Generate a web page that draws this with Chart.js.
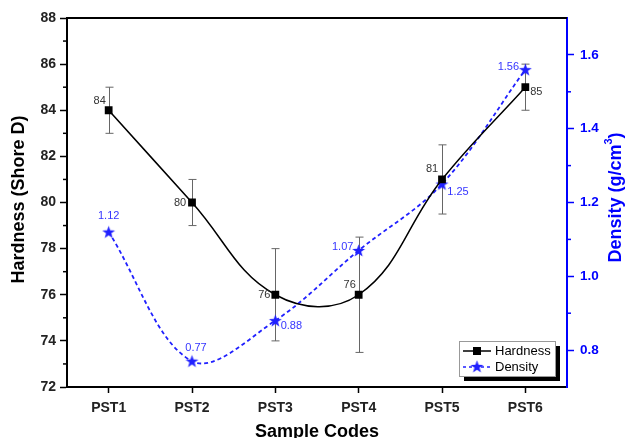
<!DOCTYPE html>
<html>
<head>
<meta charset="utf-8">
<script src="https://cdn.jsdelivr.net/npm/chart.js@4"></script>
<style>
  body { margin: 0; background: #fff; }
  #wrap { width: 630px; height: 438px; }
</style>
</head>
<body>
<div id="wrap"><canvas id="chart" width="630" height="438"></canvas></div>
<script>
const sampleCodes = ['PST1', 'PST2', 'PST3', 'PST4', 'PST5', 'PST6'];
const hardness = [84, 80, 76, 76, 81, 85];
const hardnessError = [1, 1, 2, 2.5, 1.5, 1];
const density = [1.12, 0.77, 0.88, 1.07, 1.25, 1.56];
const hardnessTicks = [72, 74, 76, 78, 80, 82, 84, 86, 88];
const densityTicks = [0.8, 1.0, 1.2, 1.4, 1.6];

// where each value label sits relative to its point (px)
const hardnessLabelPos = [[-9, -9], [-12, 0], [-11, 0], [-9, -10], [-10, -10], [11, 5]];
const densityLabelPos = [[0, -16], [4, -13], [16, 5], [-16, -4], [16, 8], [-17, -3]];

const FONT = "'Liberation Sans', Arial, sans-serif";
const BLUE = '#0000ff';
const LINE_BLUE = '#2020ff';

// filled five point star used as the density marker
const starImg = document.createElement('canvas');
starImg.width = 15;
starImg.height = 15;
const sctx = starImg.getContext('2d');
sctx.fillStyle = LINE_BLUE;
sctx.beginPath();
for (let i = 0; i < 10; i++) {
  const r = i % 2 ? 2.7 : 6.8;
  const a = -Math.PI / 2 + i * Math.PI / 5;
  sctx.lineTo(7.5 + r * Math.cos(a), 8 + r * Math.sin(a));
}
sctx.closePath();
sctx.fill();

const extras = {
  id: 'extras',
  beforeDatasetsDraw(chart) {
    const ctx = chart.ctx;
    const x = chart.scales.x, y = chart.scales.y;
    // error bars
    ctx.save();
    ctx.strokeStyle = '#666';
    ctx.lineWidth = 1;
    hardness.forEach((v, i) => {
      const px = Math.round(x.getPixelForValue(i)) + 0.5;
      const top = y.getPixelForValue(v + hardnessError[i]);
      const bot = y.getPixelForValue(v - hardnessError[i]);
      ctx.beginPath();
      ctx.moveTo(px, top); ctx.lineTo(px, bot);
      ctx.moveTo(px - 4, top); ctx.lineTo(px + 4, top);
      ctx.moveTo(px - 4, bot); ctx.lineTo(px + 4, bot);
      ctx.stroke();
    });
    ctx.restore();
  },
  afterDraw(chart) {
    const ctx = chart.ctx;
    const {left, right, top, bottom} = chart.chartArea;
    const x = chart.scales.x, y = chart.scales.y, y2 = chart.scales.y2;
    ctx.save();

    // top frame line
    ctx.strokeStyle = '#000';
    ctx.lineWidth = 2;
    ctx.beginPath();
    ctx.moveTo(left - 1, top); ctx.lineTo(right, top);
    ctx.stroke();

    // minor ticks
    ctx.lineWidth = 1.5;
    for (let i = 0; i < hardnessTicks.length - 1; i++) {
      const py = y.getPixelForValue((hardnessTicks[i] + hardnessTicks[i + 1]) / 2);
      ctx.beginPath();
      ctx.moveTo(left - 4, py); ctx.lineTo(left, py);
      ctx.stroke();
    }
    ctx.strokeStyle = BLUE;
    for (let i = 0; i < densityTicks.length - 1; i++) {
      const py = y2.getPixelForValue((densityTicks[i] + densityTicks[i + 1]) / 2);
      ctx.beginPath();
      ctx.moveTo(right, py); ctx.lineTo(right + 4, py);
      ctx.stroke();
    }

    // value labels
    ctx.font = '11px ' + FONT;
    ctx.textAlign = 'center';
    ctx.textBaseline = 'middle';
    ctx.fillStyle = '#333';
    hardness.forEach((v, i) => {
      ctx.fillText(String(v), x.getPixelForValue(i) + hardnessLabelPos[i][0],
        y.getPixelForValue(v) + hardnessLabelPos[i][1]);
    });
    ctx.fillStyle = '#3535ff';
    density.forEach((v, i) => {
      ctx.fillText(v.toFixed(2), x.getPixelForValue(i) + densityLabelPos[i][0],
        y2.getPixelForValue(v) + densityLabelPos[i][1]);
    });

    // axis titles
    ctx.font = 'bold 18px ' + FONT;
    ctx.fillStyle = '#000';
    ctx.fillText('Sample Codes', (left + right) / 2, 432);
    ctx.save();
    ctx.translate(19, (top + bottom) / 2 - 3);
    ctx.rotate(-Math.PI / 2);
    ctx.fillText('Hardness (Shore D)', 0, 0);
    ctx.restore();

    ctx.save();
    ctx.translate(616, (top + bottom) / 2 - 5);
    ctx.rotate(-Math.PI / 2);
    ctx.fillStyle = BLUE;
    ctx.textAlign = 'left';
    const main = 'Density (g/cm', sup = '3', end = ')';
    ctx.font = 'bold 18px ' + FONT;
    const wMain = ctx.measureText(main).width, wEnd = ctx.measureText(end).width;
    ctx.font = 'bold 11px ' + FONT;
    const wSup = ctx.measureText(sup).width;
    let sx = -(wMain + wSup + wEnd) / 2;
    ctx.font = 'bold 18px ' + FONT;
    ctx.fillText(main, sx, 0);
    ctx.font = 'bold 11px ' + FONT;
    ctx.fillText(sup, sx + wMain, -7);
    ctx.font = 'bold 18px ' + FONT;
    ctx.fillText(end, sx + wMain + wSup, 0);
    ctx.restore();

    // legend box with shadow
    const lx = right - 108, ly = bottom - 46, lw = 96, lh = 35;
    ctx.fillStyle = '#000';
    ctx.fillRect(lx + 5, ly + 5, lw, lh);
    ctx.fillStyle = '#fff';
    ctx.fillRect(lx, ly, lw, lh);
    ctx.strokeStyle = '#999';
    ctx.lineWidth = 1;
    ctx.strokeRect(lx + 0.5, ly + 0.5, lw, lh);

    ctx.strokeStyle = '#000';
    ctx.lineWidth = 1.5;
    ctx.beginPath();
    ctx.moveTo(lx + 4, ly + 10); ctx.lineTo(lx + 32, ly + 10);
    ctx.stroke();
    ctx.fillStyle = '#000';
    ctx.fillRect(lx + 14, ly + 6, 8, 8);

    ctx.strokeStyle = LINE_BLUE;
    ctx.setLineDash([3, 3]);
    ctx.beginPath();
    ctx.moveTo(lx + 4, ly + 26); ctx.lineTo(lx + 32, ly + 26);
    ctx.stroke();
    ctx.setLineDash([]);
    ctx.drawImage(starImg, lx + 18 - 7.5, ly + 26 - 8);

    ctx.font = '13px ' + FONT;
    ctx.fillStyle = '#000';
    ctx.textAlign = 'left';
    ctx.fillText('Hardness', lx + 36, ly + 10);
    ctx.fillText('Density', lx + 36, ly + 26);

    ctx.restore();
  }
};

new Chart(document.getElementById('chart'), {
  type: 'line',
  data: {
    labels: sampleCodes,
    datasets: [{
      label: 'Hardness',
      data: hardness,
      yAxisID: 'y',
      borderColor: '#000',
      borderWidth: 1.5,
      tension: 0.4,
      pointStyle: 'rect',
      pointRadius: 5.5,
      pointBackgroundColor: '#000',
      pointBorderColor: '#000',
      pointBorderWidth: 0
    }, {
      label: 'Density',
      data: density,
      yAxisID: 'y2',
      borderColor: LINE_BLUE,
      borderWidth: 1.8,
      borderDash: [4, 3],
      tension: 0.35,
      pointStyle: starImg
    }]
  },
  options: {
    responsive: false,
    animation: false,
    layout: { padding: { top: 18, left: 0, right: 0, bottom: 0 } },
    plugins: {
      legend: { display: false },
      tooltip: { enabled: false }
    },
    scales: {
      x: {
        offset: true,
        afterFit: s => { s.height = 51; },
        border: { color: '#000', width: 2 },
        grid: { drawOnChartArea: false, tickLength: 6, color: '#000', tickWidth: 1.5 },
        ticks: { color: '#222', font: { family: FONT, size: 14, weight: 'bold' }, padding: 7 }
      },
      y: {
        position: 'left',
        min: 72,
        max: 88,
        afterFit: s => { s.width = 67; },
        afterBuildTicks: s => { s.ticks = hardnessTicks.map(v => ({ value: v })); },
        border: { color: '#000', width: 2 },
        grid: { drawOnChartArea: false, tickLength: 7, color: '#000', tickWidth: 1.5 },
        ticks: { color: '#222', font: { family: FONT, size: 14, weight: 'bold' }, padding: 4 }
      },
      y2: {
        position: 'right',
        min: 0.7,
        max: 1.7,
        afterFit: s => { s.width = 63; },
        afterBuildTicks: s => { s.ticks = densityTicks.map(v => ({ value: v })); },
        border: { color: BLUE, width: 2 },
        grid: { drawOnChartArea: false, tickLength: 7, color: BLUE, tickWidth: 1.5 },
        ticks: {
          color: BLUE,
          font: { family: FONT, size: 13.5, weight: 'bold' },
          padding: 6,
          callback: v => v.toFixed(1)
        }
      }
    }
  },
  plugins: [extras]
});
</script>
</body>
</html>
